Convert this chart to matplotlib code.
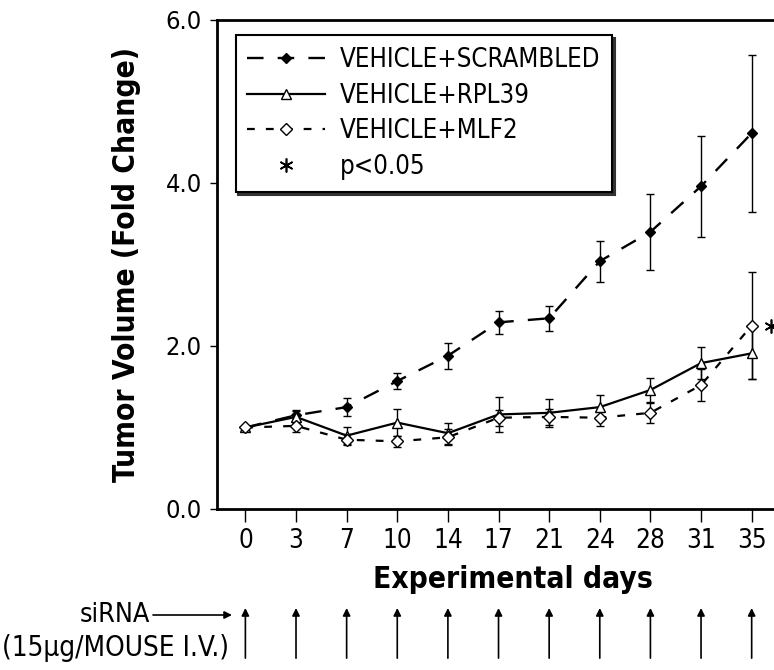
import numpy as np
import matplotlib
matplotlib.use('Agg')
import matplotlib.pyplot as plt
from matplotlib import font_manager as fm
from matplotlib.lines import Line2D

# the original uses a narrow grotesque; use DejaVu condensed if it is there
cond = fm.findfont(fm.FontProperties(family='DejaVu Sans', stretch='condensed'))
k = 1.1 if 'Condensed' in cond else 1.0
plt.rcParams['font.family'] = ['DejaVu Sans']
plt.rcParams['font.stretch'] = 'condensed'

# experimental days (equally spaced categories)
days = ['0', '3', '7', '10', '14', '17', '21', '24', '28', '31', '35']

# fold change in tumor volume
scrambled = [1.00, 1.15, 1.25, 1.57, 1.88, 2.29, 2.34, 3.04, 3.40, 3.96, 4.61]
scrambled_err = [0.0, 0.07, 0.11, 0.10, 0.16, 0.14, 0.15, 0.25, 0.47, 0.62, 0.96]

rpl39 = [1.00, 1.13, 0.90, 1.06, 0.93, 1.16, 1.18, 1.25, 1.46, 1.79, 1.91]
rpl39_err = [0.0, 0.07, 0.10, 0.17, 0.13, 0.22, 0.17, 0.15, 0.15, 0.20, 0.32]

mlf2 = [1.00, 1.02, 0.85, 0.83, 0.88, 1.12, 1.13, 1.12, 1.18, 1.52, 2.25]
mlf2_err = [0.0, 0.08, 0.07, 0.07, 0.10, 0.10, 0.10, 0.10, 0.12, 0.20, 0.66]

fig = plt.figure(figsize=(7.74, 6.7), dpi=100)
ax = fig.add_axes([0.2804, 0.2403, 0.730, 0.7299])

x = np.arange(len(days))

ax.errorbar(x, scrambled, yerr=scrambled_err, color='k', lw=1.7, ls=(0, (7, 6)),
            marker='D', ms=5.5, mfc='k', mec='k', capsize=3, elinewidth=1, capthick=1)
ax.errorbar(x, rpl39, yerr=rpl39_err, color='k', lw=1.6, ls='-',
            marker='^', ms=7, mfc='white', mec='k', capsize=3, elinewidth=1, capthick=1)
ax.errorbar(x, mlf2, yerr=mlf2_err, color='k', lw=1.6, ls=(0, (3.5, 5)),
            marker='D', ms=6, mfc='white', mec='k', capsize=3, elinewidth=1, capthick=1)

# significance mark beside last MLF2 point
ax.plot([x[-1] + 0.38], [mlf2[-1]], marker=(6, 2, 0), ms=10, color='k', mew=1.2,
        ls='none', clip_on=False)

ax.set_xlim(-0.56, 10.6)
ax.set_ylim(0, 6)
ax.set_xticks(x)
ax.set_xticklabels(days)
ax.set_yticks([0, 2, 4, 6])
ax.set_yticklabels(['0.0', '2.0', '4.0', '6.0'])
ax.tick_params(axis='x', direction='out', length=9, width=1, pad=5, labelsize=17 * k)
ax.tick_params(axis='y', direction='out', length=5, width=1, pad=6, labelsize=16.5 * k)
for s in ax.spines.values():
    s.set_linewidth(2)

ax.set_xlabel('Experimental days', fontsize=19.5 * k, fontweight='bold', va='center')
ax.xaxis.set_label_coords(0.523, -0.145)
ax.set_ylabel('Tumor Volume (Fold Change)', fontsize=19.5 * k, fontweight='bold', va='center')
ax.yaxis.set_label_coords(-0.16, 0.499)

handles = [
    Line2D([], [], color='k', lw=1.7, ls=(0, (7, 6)), marker='D', ms=5.5, mfc='k'),
    Line2D([], [], color='k', lw=1.6, ls='-', marker='^', ms=7, mfc='white'),
    Line2D([], [], color='k', lw=1.6, ls=(0, (3.5, 5)), marker='D', ms=6, mfc='white'),
    Line2D([], [], color='k', ls='none', marker=(6, 2, 0), ms=10, mew=1.2),
]
labels = ['VEHICLE+SCRAMBLED', 'VEHICLE+RPL39', 'VEHICLE+MLF2', 'p<0.05']
fs = 16.9 * k
leg = ax.legend(handles, labels, loc='upper left', bbox_to_anchor=(0.033, 0.969),
                borderaxespad=0, fontsize=fs, frameon=True, fancybox=False,
                edgecolor='k', framealpha=1, numpoints=1, handlelength=56 / fs,
                handletextpad=10.8 / fs, labelspacing=0.38, borderpad=0.45,
                shadow={'color': '0.2', 'alpha': 1})
leg.get_frame().set_linewidth(1.5)

# siRNA dosing arrows under each day
for xi in x:
    ax.annotate('', xy=(xi, -0.2025), xytext=(xi, -0.305),
                xycoords=('data', 'axes fraction'), textcoords=('data', 'axes fraction'),
                arrowprops=dict(arrowstyle='-|>', color='k', lw=1.2, mutation_scale=11,
                                shrinkA=0, shrinkB=0),
                annotation_clip=False)

fig.text(150 / 774, 1 - 615 / 670, 'siRNA', fontsize=17.5 * k, ha='right', va='center')
ax.annotate('', xy=(232, 670 - 615), xytext=(153, 670 - 615), xycoords='figure pixels',
            arrowprops=dict(arrowstyle='-|>', color='k', lw=1.2, mutation_scale=11,
                            shrinkA=0, shrinkB=0),
            annotation_clip=False)
fig.text(2 / 774, 1 - 648 / 670, '(15\u03bcg/MOUSE I.V.)', fontsize=18.2 * k,
         ha='left', va='center')

fig.savefig('out.png', dpi=100)
